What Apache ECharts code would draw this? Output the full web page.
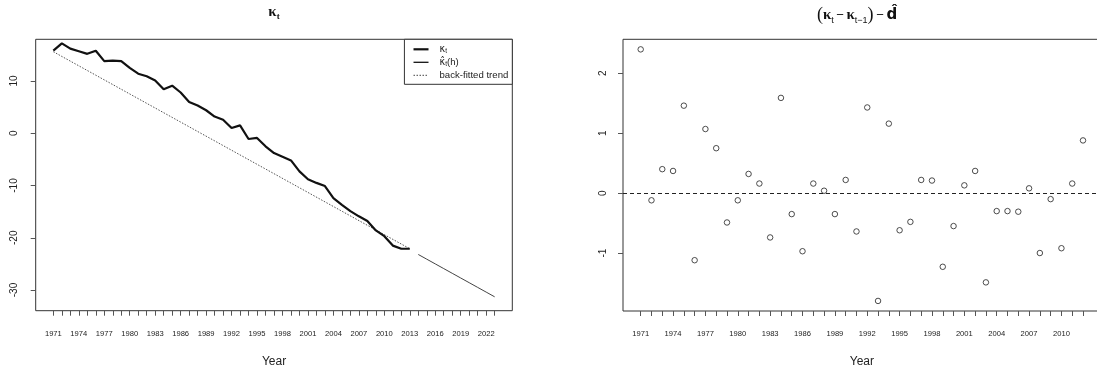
<!DOCTYPE html>
<html>
<head>
<meta charset="utf-8">
<script src="https://cdn.jsdelivr.net/npm/echarts@6/dist/echarts.min.js"></script>
<style>
  html, body { margin: 0; padding: 0; background: #fff; }
  #chart { width: 1097px; height: 370px; }
</style>
</head>
<body>
<div id="chart"></div>
<script>
// Fitted mortality index kappa_t, 1971-2013
const kappaYears = [1971, 1972, 1973, 1974, 1975, 1976, 1977, 1978, 1979, 1980,
  1981, 1982, 1983, 1984, 1985, 1986, 1987, 1988, 1989, 1990,
  1991, 1992, 1993, 1994, 1995, 1996, 1997, 1998, 1999, 2000,
  2001, 2002, 2003, 2004, 2005, 2006, 2007, 2008, 2009, 2010,
  2011, 2012, 2013];
const kappa = [15.8, 17.2, 16.2, 15.7, 15.2, 15.8, 13.8, 13.9, 13.8, 12.5,
  11.4, 10.9, 10.1, 8.4, 9.1, 7.8, 6.0, 5.3, 4.4, 3.2,
  2.6, 1.0, 1.5, -1.1, -0.9, -2.5, -3.8, -4.5, -5.2, -7.3,
  -8.8, -9.5, -10.1, -12.4, -13.7, -14.9, -15.9, -16.8, -18.6, -19.7,
  -21.5, -22.1, -22.1];

// Projected kappa_t(h)
const forecastYears = [2014, 2015, 2016, 2017, 2018, 2019, 2020, 2021, 2022, 2023];
const forecast = [-23.2, -24.1, -25.0, -25.9, -26.8, -27.7, -28.6, -29.5, -30.4, -31.3];

// Back-fitted drift trend (end points)
const trendYears = [1971, 2013];
const trend = [15.6, -22.1];

// Centred first differences (kappa_t - kappa_{t-1}) - d
const residYears = [1971, 1972, 1973, 1974, 1975, 1976, 1977, 1978, 1979, 1980,
  1981, 1982, 1983, 1984, 1985, 1986, 1987, 1988, 1989, 1990,
  1991, 1992, 1993, 1994, 1995, 1996, 1997, 1998, 1999, 2000,
  2001, 2002, 2003, 2004, 2005, 2006, 2007, 2008, 2009, 2010,
  2011, 2012];
const residuals = [2.40, -0.12, 0.40, 0.37, 1.46, -1.12, 1.07, 0.75, -0.49, -0.12,
  0.32, 0.16, -0.74, 1.59, -0.35, -0.97, 0.16, 0.04, -0.35, 0.22,
  -0.64, 1.43, -1.80, 1.16, -0.62, -0.48, 0.22, 0.21, -1.23, -0.55,
  0.13, 0.37, -1.49, -0.30, -0.30, -0.31, 0.08, -1.00, -0.10, -0.92,
  0.16, 0.88];

// Tick marks and tick labels
const leftTickYears = [1971, 1972, 1973, 1974, 1975, 1976, 1977, 1978, 1979, 1980,
  1981, 1982, 1983, 1984, 1985, 1986, 1987, 1988, 1989, 1990,
  1991, 1992, 1993, 1994, 1995, 1996, 1997, 1998, 1999, 2000,
  2001, 2002, 2003, 2004, 2005, 2006, 2007, 2008, 2009, 2010,
  2011, 2012, 2013, 2014, 2015, 2016, 2017, 2018, 2019, 2020,
  2021, 2022, 2023];
const leftLabelYears = [1971, 1974, 1977, 1980, 1983, 1986, 1989, 1992, 1995, 1998,
  2001, 2004, 2007, 2010, 2013, 2016, 2019, 2022];
const rightTickYears = residYears;
const rightLabelYears = [1971, 1974, 1977, 1980, 1983, 1986, 1989, 1992, 1995, 1998,
  2001, 2004, 2007, 2010];
const leftYTicks = [-30, -20, -10, 0, 10];
const rightYTicks = [-1, 0, 1, 2];

const pairs = (xs, ys) => xs.map((x, i) => [x, ys[i]]);

const FONT = 'Liberation Sans';
const INK = '#222';

const legendText = {
  kappa: '{k|\u03ba}{s|t}',
  forecast: '{k|\u03ba\u0302}{s|t}{n|(h)}',
  trend: 'back-fitted trend'
};

// Shared settings for the framed axes
const tickStyle = (values) => ({
  show: true, customValues: values, length: 5, lineStyle: { color: '#555', width: 1 }
});
const noLine = { show: false, onZero: false };

const chart = echarts.init(document.getElementById('chart'), null, { renderer: 'canvas' });

chart.setOption({
  animation: false,
  backgroundColor: '#fff',
  title: [
    {
      text: '{k|\u03ba}{s|t}',
      left: 274, top: 3, textAlign: 'center', padding: 0,
      textStyle: {
        rich: {
          k: { fontSize: 15, fontFamily: 'Liberation Serif', fontWeight: 'bold', color: '#111', lineHeight: 18 },
          s: { fontSize: 9, fontFamily: 'Liberation Serif', color: '#111', verticalAlign: 'bottom', lineHeight: 10 }
        }
      }
    },
    {
      text: '{p|(}{k|\u03ba}{s|t}{o|\u2009\u2212\u2009}{k|\u03ba}{s|t\u22121}{p|)}{o|\u2009\u2212\u2009}{d|d\u0302}',
      left: 857, top: 5, textAlign: 'center', padding: 0,
      textStyle: {
        rich: {
          p: { fontSize: 18, fontFamily: 'Liberation Serif', fontWeight: 'normal', color: '#111', lineHeight: 20 },
          k: { fontSize: 15, fontFamily: 'Liberation Serif', fontWeight: 'bold', color: '#111', lineHeight: 20 },
          s: { fontSize: 9, fontFamily: 'Liberation Sans', fontWeight: 'normal', color: '#111', verticalAlign: 'bottom', lineHeight: 11 },
          o: { fontSize: 13, fontFamily: 'Liberation Sans', fontWeight: 'normal', color: '#111', lineHeight: 20 },
          d: { fontSize: 15, fontFamily: 'DejaVu Sans', fontWeight: 'bold', color: '#111', lineHeight: 20 }
        }
      }
    }
  ],
  legend: {
    orient: 'vertical',
    right: 1097 - 512.3,
    top: 39.3,
    padding: [5, 4, 4, 8],
    itemGap: 3,
    itemWidth: 15,
    itemHeight: 10,
    borderColor: '#333',
    borderWidth: 1,
    borderRadius: 0,
    backgroundColor: '#fff',
    selectedMode: false,
    formatter: name => legendText[name],
    textStyle: {
      fontSize: 9.6,
      fontFamily: FONT,
      color: INK,
      padding: [0, 0, 0, 6],
      rich: {
        k: { fontSize: 9.6, fontFamily: 'DejaVu Sans', color: INK },
        s: { fontSize: 6.5, fontFamily: FONT, color: INK, verticalAlign: 'bottom', lineHeight: 8 },
        n: { fontSize: 9.6, fontFamily: FONT, color: INK }
      }
    },
    data: [
      { name: 'kappa', itemStyle: { opacity: 0 }, lineStyle: { color: '#111', width: 2.2 } },
      { name: 'forecast', itemStyle: { opacity: 0 }, lineStyle: { color: '#111', width: 1.3 } },
      { name: 'trend', itemStyle: { opacity: 0 }, lineStyle: { color: '#444', width: 1, type: [1.5, 1.5] } }
    ]
  },
  grid: [
    { left: 35.7, top: 39.3, width: 476.6, height: 271.4, show: true,
      borderColor: '#333', borderWidth: 1, backgroundColor: 'transparent',
      containLabel: false, outerBoundsMode: 'none' },
    { left: 623, top: 39.3, width: 477.7, height: 271.7, show: true,
      borderColor: '#333', borderWidth: 1, backgroundColor: 'transparent',
      containLabel: false, outerBoundsMode: 'none' }
  ],
  xAxis: [
    {
      type: 'value', gridIndex: 0, min: 1968.92, max: 2025.08, position: 'bottom',
      axisLine: noLine, splitLine: { show: false },
      axisTick: tickStyle(leftTickYears),
      axisLabel: { customValues: leftLabelYears, formatter: v => String(v), fontSize: 7.6,
        fontFamily: FONT, color: INK, margin: 19 },
      name: 'Year', nameLocation: 'middle', nameGap: 45,
      nameTextStyle: { fontSize: 12, fontFamily: FONT, color: INK }
    },
    {
      type: 'value', gridIndex: 1, min: 1969.36, max: 2013.64, position: 'bottom',
      axisLine: noLine, splitLine: { show: false },
      axisTick: tickStyle(rightTickYears),
      axisLabel: { customValues: rightLabelYears, formatter: v => String(v), fontSize: 7.6,
        fontFamily: FONT, color: INK, margin: 19 },
      name: 'Year', nameLocation: 'middle', nameGap: 45,
      nameTextStyle: { fontSize: 12, fontFamily: FONT, color: INK }
    }
  ],
  yAxis: [
    {
      type: 'value', gridIndex: 0, min: -33.96, max: 17.98, position: 'left',
      axisLine: noLine, splitLine: { show: false },
      axisTick: tickStyle(leftYTicks),
      axisLabel: { customValues: leftYTicks, formatter: v => String(v), rotate: 90, fontSize: 10,
        fontFamily: FONT, color: INK, margin: 16 }
    },
    {
      type: 'value', gridIndex: 1, min: -1.968, max: 2.568, position: 'left',
      axisLine: noLine, splitLine: { show: false },
      axisTick: tickStyle(rightYTicks),
      axisLabel: { customValues: rightYTicks, formatter: v => String(v), rotate: 90, fontSize: 10,
        fontFamily: FONT, color: INK, margin: 15 }
    }
  ],
  series: [
    {
      name: 'trend', type: 'line', xAxisIndex: 0, yAxisIndex: 0,
      data: pairs(trendYears, trend), symbol: 'none', showSymbol: false,
      itemStyle: { color: '#555' },
      lineStyle: { color: '#555', width: 1, type: [1.5, 1.5] }, z: 2
    },
    {
      name: 'forecast', type: 'line', xAxisIndex: 0, yAxisIndex: 0,
      data: pairs(forecastYears, forecast), symbol: 'none', showSymbol: false,
      itemStyle: { color: '#444' },
      lineStyle: { color: '#444', width: 1 }, z: 3
    },
    {
      name: 'kappa', type: 'line', xAxisIndex: 0, yAxisIndex: 0,
      data: pairs(kappaYears, kappa), symbol: 'none', showSymbol: false,
      itemStyle: { color: '#111' },
      lineStyle: { color: '#111', width: 2.2 }, z: 4
    },
    {
      name: 'residual', type: 'scatter', xAxisIndex: 1, yAxisIndex: 1,
      data: pairs(residYears, residuals),
      symbol: 'circle', symbolSize: 5.5,
      itemStyle: { color: '#fff', borderColor: '#222', borderWidth: 1 },
      markLine: {
        silent: true, symbol: ['none', 'none'],
        label: { show: false },
        lineStyle: { color: '#222', width: 1, type: [4, 3] },
        data: [{ yAxis: 0 }]
      }
    }
  ]
});
</script>
</body>
</html>
